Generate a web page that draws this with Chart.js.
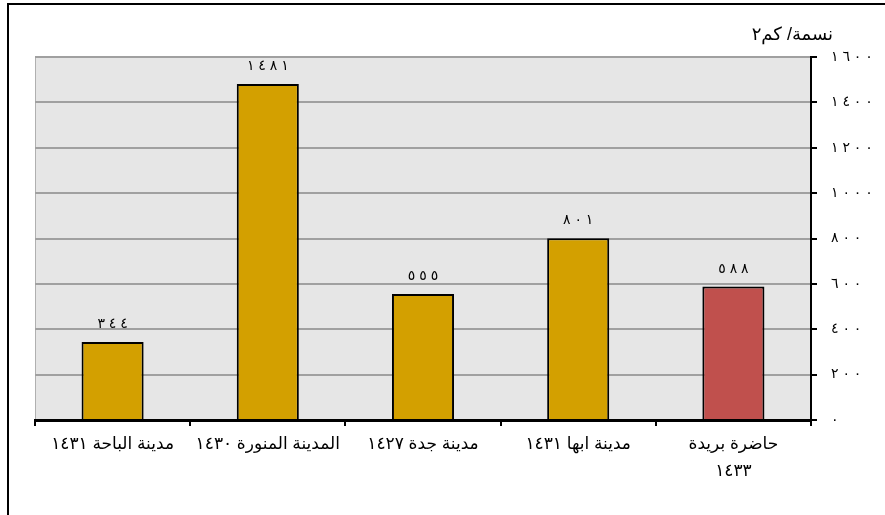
<!DOCTYPE html>
<html lang="ar">
<head>
<meta charset="utf-8">
<script src="https://cdn.jsdelivr.net/npm/chart.js@4"></script>
<style>
  html, body { margin: 0; padding: 0; background: #fff; }
  #wrap { position: relative; width: 885px; height: 515px; }
</style>
</head>
<body>
<div id="wrap"><canvas id="densityChart" width="885" height="515"></canvas></div>
<script>
    // Population density (people / km2), left to right
    const cities = [
        'مدينة الباحة ١٤٣١',
        'المدينة المنورة ١٤٣٠',
        'مدينة جدة ١٤٢٧',
        'مدينة ابها ١٤٣١',
        ['حاضرة بريدة', '١٤٣٣']
    ];
    const density = [344, 1481, 555, 801, 588];
    const barColors = ['#D3A000', '#D3A000', '#D3A000', '#D3A000', '#C0504D'];
    const yTicks = [0, 200, 400, 600, 800, 1000, 1200, 1400, 1600];
    const unitLabel = 'نسمة/ كم٢';

    const FONT = "Arial, 'Liberation Sans', 'DejaVu Sans', sans-serif";

    // western digits -> arabic-indic digits, set wide apart like the original.
    // the LRM before each space keeps the digits in their order
    function arDigits(n) {
        return String(n)
            .replace(/[0-9]/g, d => '٠١٢٣٤٥٦٧٨٩'[d])
            .split('')
            .join('\u200E ');
    }

    // grey plot background + outer frame
    const frame = {
        id: 'frame',
        beforeDraw(chart) {
            const { ctx, chartArea: a } = chart;
            ctx.save();
            ctx.fillStyle = '#E6E6E6';
            ctx.fillRect(a.left, a.top, a.right - a.left, a.bottom - a.top);
            ctx.strokeStyle = '#B0B0B0';
            ctx.lineWidth = 1;
            ctx.beginPath();
            ctx.moveTo(a.left + 0.5, a.bottom);
            ctx.lineTo(a.left + 0.5, a.top);
            ctx.stroke();
            ctx.strokeStyle = '#000';
            ctx.lineWidth = 2;
            ctx.beginPath();
            ctx.moveTo(8, chart.height);
            ctx.lineTo(8, 4);
            ctx.lineTo(chart.width, 4);
            ctx.stroke();
            ctx.restore();
        }
    };

    // value labels over the bars and the unit caption
    const labels = {
        id: 'labels',
        afterDatasetsDraw(chart) {
            const { ctx, chartArea: a } = chart;
            ctx.save();
            ctx.fillStyle = '#000';
            ctx.font = '18px ' + FONT;
            ctx.textAlign = 'right';
            ctx.fillText(unitLabel, a.right + 22, a.top - 17);

            ctx.font = '14px ' + FONT;
            ctx.textAlign = 'center';
            ctx.textBaseline = 'alphabetic';
            chart.getDatasetMeta(0).data.forEach((bar, i) => {
                ctx.fillText(arDigits(density[i]), bar.x, bar.y - 14);
            });
            ctx.restore();
        }
    };

    const ctx = document.getElementById('densityChart').getContext('2d');

    const myChart = new Chart(ctx, {
        type: 'bar',
        data: {
            labels: cities,
            datasets: [{
                data: density,
                backgroundColor: barColors,
                borderColor: '#000',
                borderWidth: 2,
                categoryPercentage: 1,
                barPercentage: 0.4
            }]
        },
        options: {
            responsive: false,
            animation: false,
            layout: { padding: { left: 35, top: 57, right: 0, bottom: 0 } },
            plugins: {
                legend: { display: false },
                tooltip: { enabled: false }
            },
            scales: {
                x: {
                    grid: {
                        offset: true,
                        drawOnChartArea: false,
                        color: '#000',
                        tickColor: '#000',
                        tickLength: 6,
                        lineWidth: 2
                    },
                    border: { color: '#000', width: 3, z: 1 },
                    ticks: {
                        color: '#000',
                        padding: 5,
                        maxRotation: 0,
                        autoSkip: false,
                        font: { family: FONT, size: 17, lineHeight: '27px' }
                    },
                    afterFit: s => { s.height = 95; }
                },
                y: {
                    position: 'right',
                    min: 0,
                    max: 1600,
                    afterBuildTicks: s => { s.ticks = yTicks.map(v => ({ value: v })); },
                    grid: {
                        color: '#A0A0A0',
                        tickColor: '#000',
                        tickLength: 6,
                        lineWidth: 2
                    },
                    border: { color: '#000', width: 2 },
                    ticks: {
                        color: '#000',
                        padding: 14,
                        font: { family: FONT, size: 14 },
                        callback: v => arDigits(v)
                    },
                    afterFit: s => { s.width = 74; }
                }
            }
        },
        plugins: [frame, labels]
    });
</script>
</body>
</html>
